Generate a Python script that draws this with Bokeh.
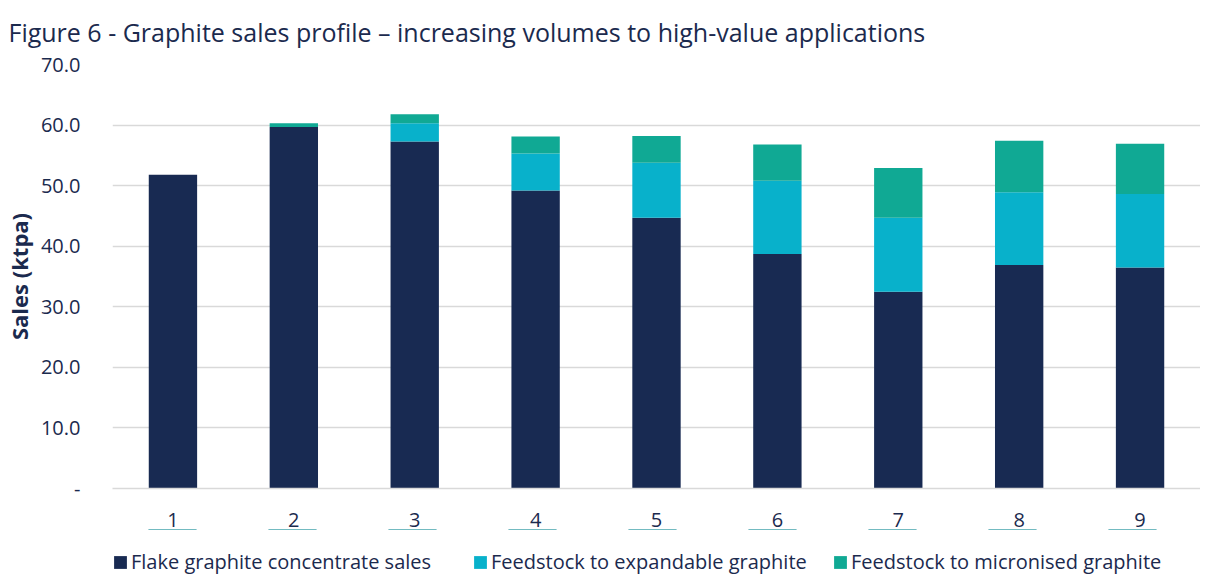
from bokeh.plotting import figure
from bokeh.layouts import column
from bokeh.models import FactorRange, Range1d, Legend, CustomJSTickFormatter, FixedTicker
from bokeh.embed import file_html
from bokeh.resources import INLINE

years = ["1", "2", "3", "4", "5", "6", "7", "8", "9"]
flake = [51.8, 59.7, 57.3, 49.2, 44.7, 38.7, 32.5, 36.9, 36.5]
expandable = [0.0, 0.0, 3.0, 6.1, 9.1, 12.1, 12.2, 12.0, 12.1]
micronised = [0.0, 0.6, 1.5, 2.8, 4.4, 6.0, 8.2, 8.5, 8.3]
series = ["flake", "expandable", "micronised"]
labels = ["Flake graphite concentrate sales", "Feedstock to expandable graphite",
          "Feedstock to micronised graphite"]
colors = ["#182a52", "#08b1cb", "#10a994"]
yticks = [0, 10, 20, 30, 40, 50, 60, 70]

NAVY = "#1b2a4e"
FONT = "Open Sans"

p = figure(frame_width=1088, frame_height=424, x_range=FactorRange(*years), y_range=Range1d(0, 70),
           output_backend="svg", toolbar_location=None,
           min_border_left=0, min_border_right=0, min_border_top=0, min_border_bottom=0)
p.outline_line_color = None
p.background_fill_color = "white"

src = dict(years=years, flake=flake, expandable=expandable, micronised=micronised)
rs = p.vbar_stack(series, x="years", width=0.4, color=colors, source=src, line_width=0)

p.title.text = "Figure 6 -  Graphite sales profile \u2013 increasing volumes to high-value applications"
p.title.text_font = FONT
p.title.text_font_size = "25px"
p.title.text_font_style = "normal"
p.title.text_color = NAVY
p.title.align = "left"
p.title.vertical_align = "top"
p.title.offset = -104
p.title.standoff = 28

p.xgrid.grid_line_color = None
p.ygrid.grid_line_color = "#d9d9d9"
p.ygrid.grid_line_width = 1.5
p.yaxis.ticker = FixedTicker(ticks=yticks)
p.yaxis.formatter = CustomJSTickFormatter(code="return tick == 0 ? '-' : tick.toFixed(1);")
p.yaxis.axis_line_color = None
p.yaxis.major_tick_line_color = None
p.yaxis.minor_tick_line_color = None
p.yaxis.major_label_standoff = 26
p.yaxis.major_label_text_font = FONT
p.yaxis.major_label_text_font_size = "20px"
p.yaxis.major_label_text_color = NAVY
p.yaxis.axis_label = "Sales (ktpa)"
p.yaxis.axis_label_text_font = FONT
p.yaxis.axis_label_text_font_size = "22px"
p.yaxis.axis_label_text_font_style = "bold"
p.yaxis.axis_label_text_color = NAVY
p.yaxis.axis_label_standoff = 4

p.xaxis.axis_line_color = "#d9d9d9"
p.xaxis.axis_line_width = 1.5
p.xaxis.major_tick_line_color = None
p.xaxis.minor_tick_line_color = None
p.xaxis.major_label_standoff = 18
p.xaxis.major_label_text_font = FONT
p.xaxis.major_label_text_font_size = "20px"
p.xaxis.major_label_text_color = NAVY

# legend strip below the chart: same stacked series, drawn far outside its visible y range
lf = figure(width=1192, height=46, x_range=FactorRange(*years), y_range=Range1d(-1000, -999),
            output_backend="svg", toolbar_location=None,
            x_axis_location=None, y_axis_location=None,
            min_border_left=0, min_border_right=0, min_border_top=0, min_border_bottom=0)
lf.outline_line_color = None
lf.grid.grid_line_color = None
lrs = lf.vbar_stack(series, x="years", width=0.4, color=colors, source=dict(src), line_width=0)

legend = Legend(items=[(lab, [r]) for lab, r in zip(labels, lrs)], orientation="horizontal",
                location=(0, 0))
legend.border_line_color = None
legend.background_fill_alpha = 0
legend.label_text_font = FONT
legend.label_text_font_size = "20px"
legend.label_text_color = NAVY
legend.label_height = 20
legend.label_width = 341
legend.glyph_width = 16
legend.glyph_height = 16
legend.label_standoff = 3
legend.spacing = 0
legend.padding = 0
legend.margin = 0
lf.add_layout(legend)

layout = column(p, lf, spacing=0)
open("out.html", "w").write(file_html(layout, INLINE))
